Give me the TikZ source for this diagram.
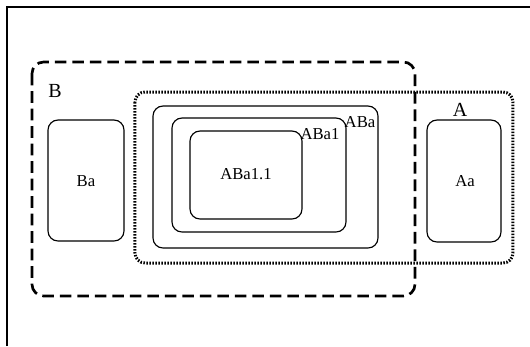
\documentclass[tikz,border=0pt]{standalone}
\usepackage{fontspec}
\setmainfont{Liberation Serif}
\usetikzlibrary{positioning}

\tikzset{
  setbox/.style={line width=0.7pt, rounded corners=6pt},
  setB/.style={line width=1.6pt, rounded corners=7pt, dash pattern=on 7pt off 3.5pt},
  setA/.style={line width=1.8pt, rounded corners=6pt, dash pattern=on 0.9pt off 0.9pt},
  setlabel/.style={inner sep=1pt, font=\large},
  boxlabel/.style={inner sep=1pt}
}

\begin{document}
\begin{tikzpicture}[x=0.6pt, y=-0.6pt]
%
    \useasboundingbox (0,0) rectangle (530,346);
    \draw[line width=0.7pt] (7,346) -- (7,7) -- (530,7);
%
    % the two big sets
    \draw[setB] (32,62) rectangle (415,296);
    \draw[setA] (135,92) rectangle (513,263);
    \node[setlabel] (lB) at (55,91) {B};
    \node[setlabel] (lA) at (460,110) {A};
%
    % inside B only
    \draw[setbox] (48,120) rectangle (124,241);
    \node[boxlabel] (Ba) at (86,181) {Ba};
%
    % inside A only
    \draw[setbox] (427,120) rectangle (501,242);
    \node[boxlabel] (Aa) at (465,181) {Aa};
%
    % the common part, nested
    \draw[setbox] (153,106) rectangle (378,248);
    \node[boxlabel] (ABa) at (360,122) {ABa};
    \draw[setbox] (172,118) rectangle (346,232);
    \node[boxlabel] (ABa1) at (320,134) {ABa1};
    \draw[setbox] (190,131) rectangle (302,219);
    \node[boxlabel] (ABa11) at (246,174) {ABa1.1};
\end{tikzpicture}
\end{document}
